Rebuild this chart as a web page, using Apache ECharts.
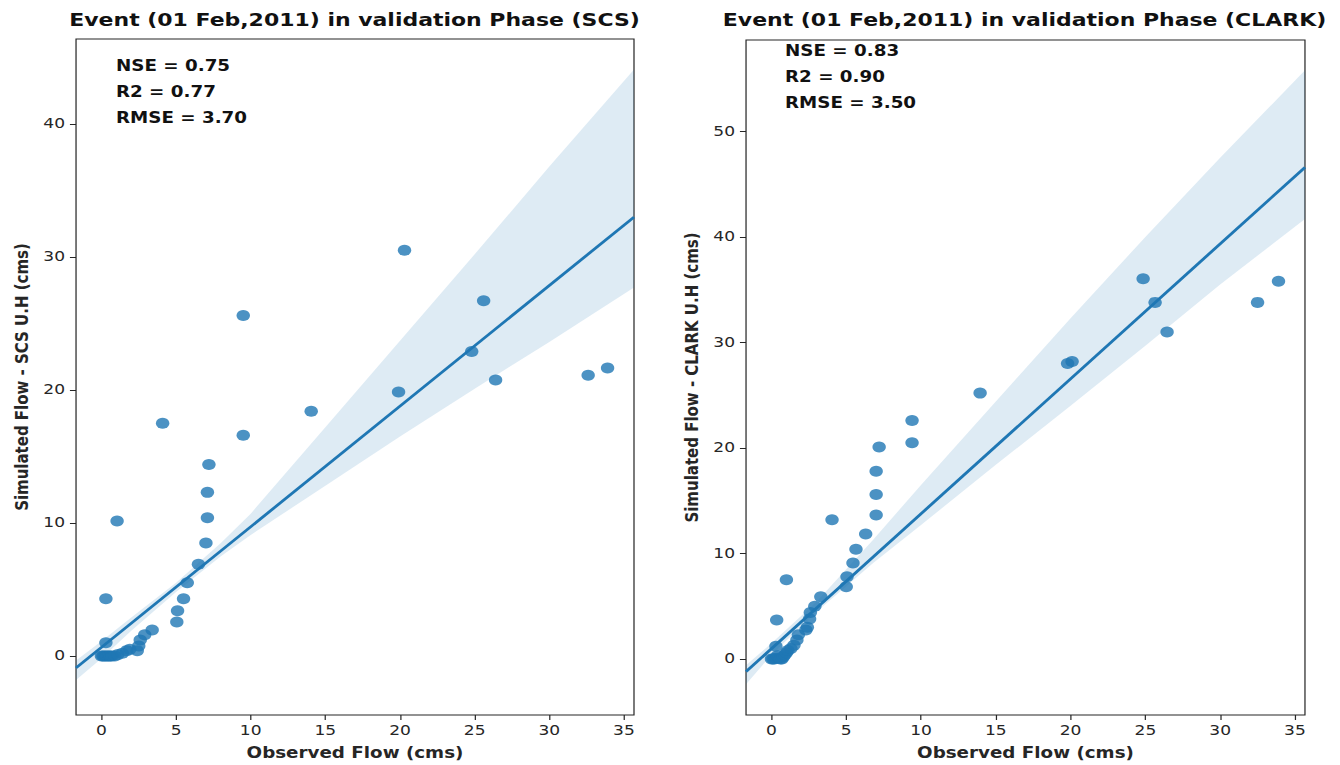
<!DOCTYPE html>
<html>
<head>
<meta charset="utf-8">
<script src="https://cdn.jsdelivr.net/npm/echarts@6/dist/echarts.min.js"></script>
<style>
  html, body { margin: 0; padding: 0; background: #fff; overflow: hidden; }
  #wrap { width: 1340px; height: 765px; overflow: hidden; }
  #main { width: 1098px; height: 765px; transform: scaleX(1.22040); transform-origin: 0 0; }
</style>
</head>
<body>
<div id="wrap"><div id="main"></div></div>
<script>
// ---------- data ----------
const xTicks = [0, 5, 10, 15, 20, 25, 30, 35];
const yTicksSCS = [0, 10, 20, 30, 40];
const yTicksCLARK = [0, 10, 20, 30, 40, 50];

const obsSCS = [0, 0.1, 0.2, 0.3, 0.4, 0.5, 0.6, 0.7, 0.9, 1.1, 1.4, 1.7, 1.9, 2.4, 2.5, 2.6, 2.9, 3.4, 0.3, 0.3, 5.05, 5.1, 5.5, 5.75, 6.5, 7.0, 7.1, 7.1, 7.2, 1.05, 4.1, 9.5, 9.5, 14.05, 19.9, 20.3, 24.8, 25.6, 26.4, 32.6, 33.9];
const simSCS = [0, 0, 0, 0, 0, 0, 0, 0, 0, 0.1, 0.2, 0.4, 0.5, 0.4, 0.75, 1.2, 1.6, 1.95, 1.0, 4.3, 2.55, 3.4, 4.3, 5.5, 6.9, 8.5, 10.4, 12.3, 14.4, 10.15, 17.5, 16.6, 25.6, 18.4, 19.85, 30.5, 22.9, 26.7, 20.75, 21.1, 21.65];
const fitXSCS = [-1.7, 35.67];
const fitYSCS = [-0.9, 33.0];
const bandXSCS = [-1.7, 0, 2, 5, 8, 10, 15, 20, 25, 30, 35.67];
const bandUpSCS = [-0.35, 1.1, 2.9, 5.5, 8.5, 10.7, 17.2, 23.7, 30.2, 36.8, 44.1];
const bandLoSCS = [-1.8, -0.2, 1.9, 4.8, 7.5, 9.1, 12.8, 16.5, 20.1, 23.6, 27.7];

const obsCLARK = [0, 0.1, 0.2, 0.3, 0.4, 0.5, 0.6, 0.7, 0.8, 0.9, 1.0, 1.1, 1.3, 1.5, 0.3, 1.7, 1.8, 2.3, 2.4, 2.55, 2.6, 2.9, 3.3, 0.35, 1.0, 5.0, 5.05, 5.45, 5.65, 6.3, 7.0, 7.0, 7.0, 7.2, 4.05, 9.4, 9.4, 13.95, 19.8, 20.1, 24.85, 25.65, 26.45, 32.5, 33.9];
const simCLARK = [0, 0, 0, 0.1, 0.3, 0.1, 0, 0, 0.2, 0.4, 0.6, 0.8, 1.0, 1.3, 1.2, 1.8, 2.3, 2.75, 3.0, 3.8, 4.4, 5.0, 5.9, 3.7, 7.5, 6.85, 7.8, 9.1, 10.4, 11.85, 13.65, 15.6, 17.8, 20.1, 13.2, 20.5, 22.6, 25.2, 28.0, 28.2, 36.05, 33.8, 31.0, 33.8, 35.8];
const fitXCLARK = [-1.7, 35.67];
const fitYCLARK = [-1.2, 46.6];
const bandXCLARK = [-1.7, 0, 3, 6.8, 10, 15, 20, 25, 30, 35.67];
const bandUpCLARK = [-0.6, 1.5, 5.4, 11.3, 16.5, 24.4, 32.3, 40.0, 47.5, 55.8];
const bandLoCLARK = [-2.4, 0.4, 4.45, 9.1, 12.7, 18.4, 24.0, 29.7, 35.5, 41.7];

const titles = ['Event (01 Feb,2011) in validation Phase (SCS)', 'Event (01 Feb,2011) in validation Phase (CLARK)'];
const statsSCS = ['NSE = 0.75', 'R2 = 0.77', 'RMSE = 3.70'];
const statsCLARK = ['NSE = 0.83', 'R2 = 0.90', 'RMSE = 3.50'];
const xName = 'Observed Flow (cms)';
const yNames = ['Simulated Flow - SCS U.H (cms)', 'Simulated Flow - CLARK U.H (cms)'];

// ---------- chart ----------
const C0 = '#1f77b4';
const TXT = '#262626';
const FONT = 'DejaVu Sans';
const chart = echarts.init(document.getElementById('main'), null, { renderer: 'svg' });

function zip(a, b) { return a.map((v, i) => [v, b[i]]); }

function bandSeries(idx, bx, up, lo) {
  return {
    type: 'custom', xAxisIndex: idx, yAxisIndex: idx, z: 5, silent: true,
    data: bx.map((x, i) => [x, up[i], lo[i]]),
    encode: { x: 0, y: [1, 2] },
    renderItem: function (params, api) {
      if (params.dataIndex !== 0) return null;
      const pts = [];
      for (let i = 0; i < bx.length; i++) pts.push(api.coord([bx[i], up[i]]));
      for (let i = bx.length - 1; i >= 0; i--) pts.push(api.coord([bx[i], lo[i]]));
      return { type: 'polygon', shape: { points: pts }, style: { fill: 'rgba(31,119,180,0.15)' } };
    }
  };
}

function xAxisDef(idx) {
  return {
    type: 'value', gridIndex: idx, min: -1.7, max: 35.67, position: 'bottom',
    name: xName, nameLocation: 'middle', nameGap: 30,
    nameTextStyle: { fontFamily: FONT, fontWeight: 'bold', fontSize: 15, color: TXT },
    axisLine: { show: false, onZero: false },
    axisTick: { show: true, length: 5, customValues: xTicks, lineStyle: { color: TXT, width: 1 } },
    axisLabel: { customValues: xTicks, margin: 9, fontFamily: FONT, fontSize: 14, color: TXT },
    splitLine: { show: false }
  };
}
function yAxisDef(idx, min, max, ticks) {
  return {
    type: 'value', gridIndex: idx, min: min, max: max, position: 'left',
    name: yNames[idx], nameLocation: 'middle', nameGap: 37, nameRotate: 90,
    nameTextStyle: { fontFamily: FONT, fontWeight: 'bold', fontSize: 15, color: TXT },
    axisLine: { show: false, onZero: false },
    axisTick: { show: true, length: 5, customValues: ticks, lineStyle: { color: TXT, width: 1 } },
    axisLabel: { customValues: ticks, margin: 9, fontFamily: FONT, fontSize: 14, color: TXT },
    splitLine: { show: false }
  };
}

function textEl(x, y, text, size, align) {
  return {
    type: 'text', x: x, y: y, z: 100,
    style: { text: text, fontFamily: FONT, fontWeight: 'bold', fontSize: size, fill: '#111', align: align, verticalAlign: 'middle' }
  };
}

const graphics = [
  textEl(290.5, 20, titles[0], 18, 'center'),
  textEl(839.5, 20, titles[1], 18, 'center'),
  textEl(95, 66, statsSCS[0], 15, 'left'),
  textEl(95, 92, statsSCS[1], 15, 'left'),
  textEl(95, 118, statsSCS[2], 15, 'left'),
  textEl(643.2, 51, statsCLARK[0], 15, 'left'),
  textEl(643.2, 77, statsCLARK[1], 15, 'left'),
  textEl(643.2, 103, statsCLARK[2], 15, 'left')
];

const option = {
  backgroundColor: '#ffffff',
  animation: false,
  grid: [
    { left: 62.3, top: 39, width: 457.2, height: 676, show: true, borderColor: TXT, borderWidth: 1, backgroundColor: 'transparent' },
    { left: 611.3, top: 40, width: 458.0, height: 675, show: true, borderColor: TXT, borderWidth: 1, backgroundColor: 'transparent' }
  ],
  xAxis: [xAxisDef(0), xAxisDef(1)],
  yAxis: [yAxisDef(0, -4.44, 46.39, yTicksSCS), yAxisDef(1, -5.31, 58.67, yTicksCLARK)],
  graphic: graphics,
  series: [
    { type: 'scatter', xAxisIndex: 0, yAxisIndex: 0, z: 2, symbol: 'circle', symbolSize: 11,
      itemStyle: { color: C0, opacity: 0.8 }, data: zip(obsSCS, simSCS) },
    { type: 'line', xAxisIndex: 0, yAxisIndex: 0, z: 3, symbol: 'none', lineStyle: { color: C0, width: 2.6 },
      data: zip(fitXSCS, fitYSCS) },
    bandSeries(0, bandXSCS, bandUpSCS, bandLoSCS),
    { type: 'scatter', xAxisIndex: 1, yAxisIndex: 1, z: 2, symbol: 'circle', symbolSize: 11,
      itemStyle: { color: C0, opacity: 0.8 }, data: zip(obsCLARK, simCLARK) },
    { type: 'line', xAxisIndex: 1, yAxisIndex: 1, z: 3, symbol: 'none', lineStyle: { color: C0, width: 2.6 },
      data: zip(fitXCLARK, fitYCLARK) },
    bandSeries(1, bandXCLARK, bandUpCLARK, bandLoCLARK)
  ]
};
chart.setOption(option);
</script>
</body>
</html>
